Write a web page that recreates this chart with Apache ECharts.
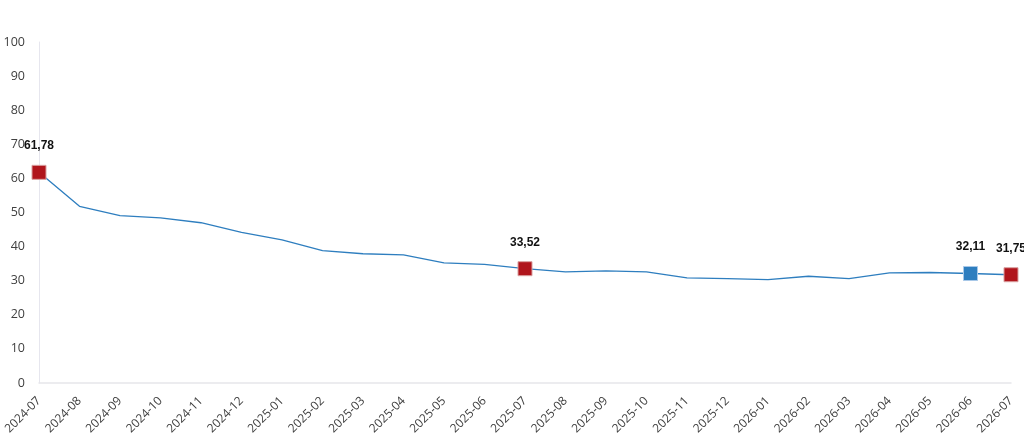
<!DOCTYPE html>
<html>
<head>
<meta charset="utf-8">
<script src="https://cdn.jsdelivr.net/npm/echarts@6/dist/echarts.min.js"></script>
<style>html,body{margin:0;padding:0;background:#fff}#c{width:1024px;height:441px}</style>
</head>
<body>
<div id="c"></div>
<script>
const categories = ["2024-07","2024-08","2024-09","2024-10","2024-11","2024-12","2025-01","2025-02","2025-03","2025-04","2025-05","2025-06","2025-07","2025-08","2025-09","2025-10","2025-11","2025-12","2026-01","2026-02","2026-03","2026-04","2026-05","2026-06","2026-07"];
const values = [61.78,51.8,49.1,48.4,47.0,44.2,42.0,38.8,37.9,37.6,35.2,34.8,33.52,32.6,32.9,32.6,30.8,30.6,30.3,31.3,30.6,32.3,32.4,32.11,31.75];
const redIdx = [0, 12, 24];
const blueIdx = [23];
const yTicks = {min: 0, max: 100, interval: 10};

const RED = '#B0151C', BLUE = '#2E7EBF';
const data = values.map((v, i) => {
  if (redIdx.includes(i)) return {value: v, symbol: 'rect', symbolSize: 14, itemStyle: {color: RED, borderColor: '#d9a0a0', borderWidth: 1}, label: {show: true}};
  if (blueIdx.includes(i)) return {value: v, symbol: 'rect', symbolSize: 14, itemStyle: {color: BLUE, borderColor: '#a8c8e8', borderWidth: 1}, label: {show: true}};
  return {value: v, symbol: 'none'};
});

const chart = echarts.init(document.getElementById('c'), null, {renderer: 'canvas'});
chart.setOption({
  animation: false,
  grid: {left: 39, right: 13, top: 42, bottom: 58, containLabel: false},
  xAxis: {
    type: 'category', data: categories, boundaryGap: false,
    axisLine: {lineStyle: {color: '#e6e6ea', width: 1.5}},
    axisTick: {show: false},
    axisLabel: {rotate: 45, color: '#404040', fontSize: 12, fontFamily: 'Open Sans', margin: 16, interval: 0}
  },
  yAxis: {
    type: 'value', min: yTicks.min, max: yTicks.max, interval: yTicks.interval,
    axisLine: {show: true, lineStyle: {color: '#e6e6ee', width: 1}},
    axisTick: {show: false},
    splitLine: {show: false},
    axisLabel: {color: '#404040', fontSize: 12.5, fontFamily: 'Open Sans', margin: 14}
  },
  series: [{
    type: 'line', data: data,
    lineStyle: {color: BLUE, width: 1.3},
    itemStyle: {color: BLUE},
    symbol: 'none',
    label: {show: false, position: 'top', distance: 13, color: '#111', fontWeight: 'bold', fontSize: 12, fontFamily: 'Liberation Sans',
      formatter: p => p.value.toFixed(2).replace('.', ',')}
  }]
});
</script>
</body>
</html>
